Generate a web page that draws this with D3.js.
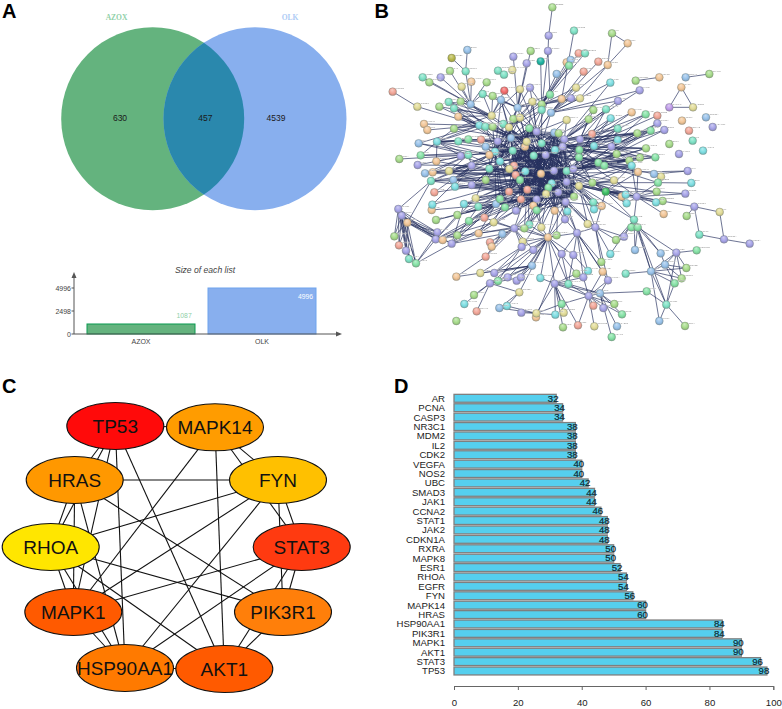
<!DOCTYPE html>
<html><head><meta charset="utf-8">
<script src="https://cdnjs.cloudflare.com/ajax/libs/d3/7.8.5/d3.min.js"></script>
<style>html,body{margin:0;padding:0;background:#fff}svg{display:block}text{font-family:"Liberation Sans",Arial,sans-serif}</style>
</head><body><svg id="c" width="782" height="709"></svg>
<script>
// ---------- Panel A ----------
const vennNames = ["AZOX","OLK"];
const vennCounts = [630,457,4539];
const listSizes = [1087,4996];
const listTicks = [0,2498,4996];
// ---------- Panel C ----------
const hubGenes = ["TP53","MAPK14","HRAS","FYN","RHOA","STAT3","MAPK1","PIK3R1","HSP90AA1","AKT1"];
const hubColors = ["#ff0a0a","#ff9c00","#ff9800","#ffc000","#ffe600","#ff3a10","#ff5a00","#ff7f0a","#ff7a00","#ff5a00"];
const hubX = [115.3,215,74.7,278,50.7,301.7,73.3,283,125,224.3];
const hubY = [426,427.3,480,480,547,547,612,612,668,669];
const hubLinks = [["TP53","MAPK14"],["TP53","HRAS"],["TP53","RHOA"],["TP53","MAPK1"],["TP53","HSP90AA1"],["TP53","AKT1"],
["MAPK14","FYN"],["MAPK14","STAT3"],["MAPK14","MAPK1"],["MAPK14","AKT1"],
["HRAS","FYN"],["HRAS","RHOA"],["HRAS","MAPK1"],["HRAS","HSP90AA1"],["HRAS","PIK3R1"],
["FYN","RHOA"],["FYN","STAT3"],["FYN","MAPK1"],["FYN","HSP90AA1"],["FYN","PIK3R1"],
["RHOA","MAPK1"],["RHOA","HSP90AA1"],["RHOA","AKT1"],["RHOA","PIK3R1"],
["STAT3","MAPK1"],["STAT3","HSP90AA1"],["STAT3","PIK3R1"],["STAT3","AKT1"],
["MAPK1","HSP90AA1"],["PIK3R1","AKT1"],["HSP90AA1","AKT1"]];
// ---------- Panel D ----------
const degreeGenes = ["AR","PCNA","CASP3","NR3C1","MDM2","IL2","CDK2","VEGFA","NOS2","UBC","SMAD3","JAK1","CCNA2","STAT1","JAK2","CDKN1A","RXRA","MAPK8","ESR1","RHOA","EGFR","FYN","MAPK14","HRAS","HSP90AA1","PIK3R1","MAPK1","AKT1","STAT3","TP53"];
const degreeValues = [32,34,34,38,38,38,38,40,40,42,44,44,46,48,48,48,50,50,52,54,54,56,60,60,84,84,90,90,96,98];
const degreeTicks = [0,20,40,60,80,100];
// ---------- Panel B : nodes [x, y, hue] ----------
const hues = {g:"#a8dc8c",t:"#7fe2c6",b:"#a7a4e8",s:"#98c2ea",o:"#f2c698",r:"#f2a698",y:"#e2dc98",c:"#7edee2",m:"#86e2a6",k:"#b8b84c",d:"#1fb4a2",e:"#f26a6a",p:"#c09cea",n:"#3cc064"};
const netNodes = [[547,22,"g"],[536,107,"b"],[612,92,"t"],[534,153,"b"],[726,100,"g"],[773,130,"o"],[292,150,"s"],[245,174,"k"],[430,170,"b"],[482,153,"g"],[470,190,"b"],[512,184,"d"],[626,160,"r"],[645,160,"t"],[590,187,"o"],[602,180,"s"],[685,185,"r"],[713,195,"o"],[641,215,"r"],[597,197,"m"],[560,222,"s"],[721,248,"c"],[797,242,"g"],[868,232,"o"],[947,232,"s"],[1018,222,"g"],[934,262,"o"],[898,322,"p"],[969,322,"y"],[809,271,"b"],[744,303,"b"],[158,232,"t"],[178,247,"g"],[212,232,"b"],[240,213,"g"],[287,214,"t"],[304,245,"o"],[350,247,"g"],[384,212,"t"],[402,224,"t"],[427,210,"y"],[275,260,"y"],[338,282,"t"],[368,288,"g"],[403,272,"e"],[450,268,"y"],[480,263,"b"],[540,284,"m"],[575,297,"o"],[603,295,"b"],[630,295,"y"],[618,263,"y"],[68,275,"r"],[142,320,"y"],[208,320,"g"],[236,306,"t"],[272,305,"g"],[252,325,"t"],[302,313,"s"],[393,300,"s"],[487,305,"y"],[515,313,"g"],[443,323,"s"],[515,330,"t"],[265,350,"o"],[365,347,"y"],[328,376,"c"],[346,380,"t"],[368,380,"g"],[400,372,"t"],[417,382,"y"],[430,357,"g"],[450,353,"y"],[543,338,"s"],[590,360,"y"],[656,358,"g"],[670,330,"g"],[708,328,"t"],[722,355,"c"],[785,337,"o"],[827,343,"m"],[862,347,"r"],[862,370,"b"],[883,390,"b"],[842,392,"m"],[802,400,"g"],[743,386,"t"],[666,402,"r"],[1008,352,"s"],[936,362,"o"],[1028,381,"b"],[957,392,"r"],[968,422,"t"],[898,432,"g"],[999,452,"c"],[927,462,"b"],[162,372,"o"],[172,390,"o"],[252,386,"g"],[146,430,"s"],[201,425,"c"],[265,424,"t"],[295,418,"m"],[333,419,"r"],[347,440,"s"],[383,424,"b"],[423,414,"s"],[478,385,"m"],[500,395,"b"],[553,398,"s"],[566,400,"g"],[515,430,"t"],[465,440,"o"],[470,425,"y"],[428,452,"t"],[375,455,"c"],[358,465,"o"],[295,465,"t"],[272,468,"b"],[88,477,"g"],[152,466,"m"],[143,495,"b"],[199,484,"o"],[305,497,"b"],[390,484,"c"],[432,497,"r"],[418,507,"y"],[491,467,"t"],[527,465,"b"],[555,450,"c"],[583,418,"b"],[578,440,"b"],[630,418,"b"],[628,450,"m"],[627,472,"m"],[672,438,"c"],[724,440,"b"],[743,420,"c"],[740,462,"g"],[685,488,"m"],[703,497,"m"],[778,482,"g"],[810,473,"g"],[856,472,"m"],[828,445,"g"],[785,497,"c"],[804,516,"o"],[873,530,"y"],[852,522,"s"],[953,513,"b"],[864,548,"m"],[964,549,"c"],[165,520,"s"],[188,517,"o"],[237,513,"y"],[358,506,"t"],[466,514,"c"],[513,521,"o"],[552,512,"b"],[590,513,"t"],[610,507,"b"],[437,525,"r"],[450,540,"m"],[183,543,"t"],[250,540,"s"],[255,560,"c"],[305,555,"b"],[347,540,"g"],[417,575,"r"],[472,569,"r"],[545,550,"c"],[535,563,"m"],[590,546,"b"],[627,558,"y"],[667,548,"g"],[732,541,"y"],[707,575,"n"],[565,577,"b"],[528,582,"y"],[193,577,"r"],[185,630,"o"],[187,614,"c"],[282,612,"c"],[317,595,"y"],[325,620,"t"],[378,612,"s"],[390,597,"m"],[405,622,"m"],[453,598,"r"],[500,598,"b"],[587,606,"b"],[612,590,"g"],[670,607,"t"],[672,628,"c"],[695,618,"o"],[755,590,"o"],[767,584,"c"],[800,590,"b"],[770,610,"c"],[860,575,"g"],[878,603,"g"],[858,607,"c"],[946,581,"b"],[973,620,"b"],[1049,636,"y"],[881,642,"o"],[950,648,"g"],[85,627,"b"],[95,647,"b"],[112,668,"o"],[198,660,"g"],[262,645,"g"],[297,663,"m"],[343,653,"r"],[371,667,"y"],[438,632,"b"],[490,617,"o"],[500,631,"m"],[554,632,"o"],[592,634,"c"],[585,658,"b"],[792,659,"t"],[653,672,"y"],[676,682,"b"],[478,674,"t"],[433,685,"b"],[463,685,"g"],[514,682,"y"],[326,700,"o"],[397,702,"s"],[621,699,"b"],[534,712,"o"],[560,706,"g"],[784,682,"m"],[803,682,"m"],[762,710,"b"],[738,720,"g"],[988,704,"t"],[1062,718,"b"],[1139,731,"b"],[73,709,"g"],[87,736,"r"],[108,752,"b"],[117,777,"t"],[138,790,"m"],[202,697,"b"],[197,718,"b"],[218,720,"o"],[262,706,"g"],[245,731,"b"],[360,727,"r"],[365,740,"o"],[347,770,"r"],[458,725,"y"],[455,741,"b"],[490,750,"b"],[575,762,"b"],[610,765,"b"],[721,762,"c"],[795,750,"s"],[872,760,"s"],[919,758,"b"],[980,751,"m"],[694,786,"g"],[486,797,"s"],[885,794,"s"],[949,804,"g"],[259,830,"o"],[331,819,"y"],[373,819,"b"],[413,832,"b"],[440,842,"b"],[453,832,"b"],[384,843,"m"],[360,850,"b"],[511,834,"c"],[554,851,"b"],[595,852,"t"],[619,821,"g"],[654,813,"c"],[698,815,"o"],[640,832,"b"],[714,841,"b"],[767,821,"t"],[843,814,"s"],[935,835,"g"],[914,850,"m"],[830,874,"m"],[448,877,"y"],[312,885,"g"],[283,912,"c"],[320,934,"r"],[259,963,"g"],[388,924,"s"],[411,918,"c"],[454,938,"b"],[498,952,"o"],[499,940,"y"],[556,944,"c"],[575,912,"m"],[581,938,"y"],[690,880,"s"],[656,888,"b"],[670,917,"r"],[700,924,"b"],[733,912,"g"],[756,943,"m"],[889,914,"t"],[868,963,"s"],[945,978,"g"],[579,982,"g"],[624,976,"r"],[673,979,"y"],[741,979,"s"],[725,1011,"m"]];
// Panel B : edges as [hub x, hub y, [neighbour x, y, ...]]
const netEdges = [
[547,22,[536,107]],[536,107,[534,153]],[534,153,[540,284,515,330]],[612,92,[575,297]],[726,100,[773,130,713,195]],[773,130,[713,195]],[713,195,[630,295,543,338]],[292,150,[287,214]],[245,174,[287,214]],[68,275,[142,320]],[142,320,[328,376]],[947,232,[1018,222]],[934,262,[898,322,969,322]],[898,322,[969,322]],[797,242,[868,232]],
[973,620,[1049,636,988,704,950,648]],[1049,636,[1062,718]],[1062,718,[1139,731,988,704]],[919,758,[980,751]],[953,513,[804,516,852,522]],[964,549,[864,548]],[946,581,[860,575]],
[430,452,[358,465,375,455,295,465,272,468,383,424,347,440,423,414,333,419,265,424,201,425,152,466,305,497,358,506,418,507,437,525,390,484,347,540,305,555,250,540,417,575,472,569,450,540]],
[470,425,[400,372,417,382,368,380,346,380,328,376,443,323,393,300,302,313,252,325,365,347,430,357,450,353,487,305,515,330,478,385,423,414,383,424,375,455,491,467,527,465,466,514,418,507,513,521]],
[515,430,[478,385,500,395,553,398,543,338,515,313,590,360,656,358,630,418,578,440,583,418,555,450,491,467,527,465,552,512,590,513,610,507,513,521,466,514,628,450,672,438]],
[491,467,[390,484,358,506,305,497,418,507,437,525,450,540,535,563,545,550,590,546,565,577,528,582,472,569,417,575,453,598,500,598,587,606,513,521,552,512]],
[527,465,[628,450,627,472,672,438,724,440,685,488,703,497,667,548,627,558,590,546,565,577,535,563,610,507,590,513,555,450]],
[552,512,[437,525,450,540,472,569,417,575,500,598,528,582,565,577,590,546,627,558,667,548,732,541,707,575,612,590,587,606,670,607,554,632,500,631,490,617]],
[590,546,[453,598,500,598,554,632,592,634,585,658,612,590,670,607,672,628,695,618,767,584,755,590,800,590,785,497,740,462,724,440]],
[472,569,[378,612,405,622,438,632,317,595,325,620,282,612,305,555,250,540,255,560,347,540,390,597,490,617,500,631,433,685,463,685,478,674,514,682]],
[417,575,[305,555,347,540,317,595,255,560,282,612,183,543,237,513,343,653,371,667,438,632,297,663,262,645]],
[437,525,[250,540,237,513,188,517,199,484,165,520,183,543,305,497,272,468,295,465,347,540]],
[565,577,[534,712,560,706,621,699,585,658,676,682,653,672,514,682,478,674,463,685,433,685,554,632,500,631,455,741]],
[513,521,[610,507,627,472,628,450,685,488,703,497,740,462,778,482,785,497,804,516,810,473]],
[610,507,[685,488,703,497,740,462,778,482,785,497,810,473,828,445,802,400,743,386,722,355,708,328,666,402,842,392,856,472]],
[630,418,[670,330,708,328,722,355,656,358,743,386,785,337,802,400,827,343,842,392,666,402,724,440,743,420]],
[724,440,[802,400,842,392,862,370,883,390,827,343,828,445,856,472,810,473,778,482,785,497,743,386]],
[627,472,[743,420,778,482,672,438,685,488,732,541,667,548,804,516,785,497,852,522,864,548]],
[707,575,[785,497,804,516,767,584,800,590,860,575,858,607,770,610,792,659,676,682]],
[800,590,[804,516,864,548,860,575,878,603,858,607,946,581,973,620,881,642,792,659,770,610,732,541,785,497]],
[365,347,[302,313,272,305,236,306,252,325,265,350,252,386,208,320,338,282,368,288,393,300,450,268,403,272]],
[443,323,[403,272,450,268,480,263,368,288,338,282,393,300,487,305,540,284,575,297,470,190,430,170,482,153]],
[515,313,[480,263,540,284,575,297,603,295,630,295,618,263,560,222,590,187,597,197,602,180,626,160,645,160,512,184]],
[543,338,[641,215,685,185,721,248,809,271,744,303,603,295,630,295,618,263]],
[302,313,[304,245,275,260,212,232,178,247,158,232,236,306,287,214,338,282,240,213,350,247]],
[328,376,[208,320,252,386,265,350,172,390,162,372,146,430,201,425,252,325]],
[201,425,[265,424,295,418,272,468,295,465,333,419,346,380,252,386,152,466,199,484]],
[295,465,[146,430,88,477,152,466,143,495,199,484,165,520,188,517,237,513,305,497]],
[305,497,[143,495,165,520,188,517,183,543,237,513,250,540,255,560,193,577,187,614]],
[534,712,[463,685,433,685,478,674,514,682,560,706,585,658,621,699,455,741,458,725,490,750,575,762,610,765,486,797,413,832,440,842,453,832,511,834,554,851,595,852,619,821,373,819,360,850,448,877]],
[621,699,[575,762,610,765,585,658,676,682,694,786,654,813,640,832,698,815,714,841]],
[676,682,[721,762,762,710,738,720,653,672,694,786,714,841]],
[792,659,[762,710,738,720,784,682,803,682,721,762,795,750,872,760,843,814]],
[803,682,[872,760,919,758,795,750,889,914,843,814]],
[554,851,[511,834,595,852,499,940,556,944,575,912,581,938,624,976,579,982,656,888,690,880,619,821,640,832]],
[656,888,[595,852,640,832,698,815,714,841,690,880,700,924,670,917,733,912,756,943,624,976,673,979,575,912]],
[690,880,[595,852,714,841,733,912,756,943,741,979,725,1011,830,874,700,924]],
[843,814,[767,821,885,794,919,758,949,804,935,835,914,850,889,914,868,963]],
[885,794,[919,758,949,804,935,835,914,850,872,760]],
[919,758,[949,804,935,835,889,914]],
[889,914,[830,874,945,978,914,850,868,963]],
[360,850,[453,832,413,832,312,885,283,912,320,934,384,843,486,797,448,877]],
[486,797,[373,819,331,819,259,830,413,832,453,832]],
[85,627,[95,647,112,668,73,709,87,736,108,752,117,777,138,790,183,543,202,697,197,718]],
[95,647,[112,668,73,709,87,736,108,752,117,777,138,790,202,697,197,718,218,720,245,731]],
[112,668,[73,709,87,736,108,752,117,777,138,790,202,697,197,718,245,731,218,720,183,543]],
[138,790,[197,718,245,731,202,697,108,752,117,777]],
[197,718,[317,595,343,653,262,645,297,663,371,667,326,700,262,706]],
[245,731,[325,620,282,612,378,612,397,702,326,700,371,667]],
[326,700,[405,622,438,632,478,674,433,685]],
[397,702,[360,727,365,740,347,770,433,685,478,674]],
[347,770,[259,830,433,685]],
[455,741,[331,819,384,843,373,819]],
[499,940,[454,938,388,924,411,918,575,912,556,944]],
[448,877,[411,918,388,924]],
[610,765,[654,813,595,852]],[575,762,[595,852,498,952]],
[423,414,[265,350,302,313,252,386,236,306,201,425,393,300,346,380,478,385,500,395,553,398,566,400]],
[383,424,[265,424,295,418,272,305,252,325,265,350,333,419,347,440,428,452,375,455,358,465]],
[358,465,[201,425,146,430,237,513,250,540,183,543,305,497,358,506,390,484]],
[500,395,[450,268,480,263,540,284,487,305,575,297,443,323,543,338,590,360,430,357,450,353,553,398]],
[583,418,[590,360,656,358,670,330,708,328,744,303,809,271,721,248,666,402,743,386,802,400,630,418]],
[578,440,[672,438,628,450,724,440,743,420,802,400,828,445,842,392,740,462]],
[628,450,[722,355,743,386,785,337,827,343,862,347,802,400,828,445,810,473,856,472,778,482]],
[685,488,[862,370,883,390,842,392,856,472,810,473,778,482,828,445,785,497,804,516]],
[667,548,[732,541,785,497,767,584,755,590,770,610,800,590,860,575,864,548,707,575]],
[627,558,[670,607,672,628,695,618,707,575,767,584,653,672,676,682,732,541,792,659]],
[587,606,[554,632,592,634,585,658,653,672,676,682,621,699,534,712,500,631,490,617,695,618]],
[500,598,[378,612,405,622,438,632,463,685,478,674,433,685,371,667,343,653,514,682,453,598]],
[453,598,[282,612,325,620,262,645,297,663,343,653,371,667,198,660,378,612,390,597,405,622]],
[535,563,[453,598,490,617,500,631,514,682,554,632,592,634,478,674,528,582,612,590,587,606]],
[528,582,[418,507,450,540,472,569,417,575,390,597,378,612,438,632,490,617,585,658]],
[450,540,[317,595,325,620,282,612,347,540,305,555,255,560,250,540,183,543,193,577,187,614]],
[418,507,[305,555,250,540,237,513,188,517,183,543,358,506,390,484,347,540,375,455]],
[378,612,[185,630,198,660,262,645,297,663,218,720,262,706,245,731,326,700]],
[433,685,[371,667,343,653,360,727,365,740,397,702,458,725,490,750,455,741]],
// dense core
[432,497,[470,425,515,430,491,467,527,465,555,450,578,440,552,512,590,513,610,507,545,550,590,546,565,577,535,563,500,598,453,598,587,606,383,424,423,414,478,385,500,395,553,398,630,418,628,450]],
[466,514,[428,452,465,440,515,430,555,450,583,418,610,507,627,472,590,546,565,577,528,582,500,598,587,606,612,590,627,558,667,548,417,575,453,598,438,632,490,617,500,631,554,632]],
[545,550,[430,452,465,440,470,425,478,385,500,395,423,414,553,398,566,400,583,418,578,440,630,418,628,450,672,438,418,507,437,525,450,540,417,575,453,598,500,598,438,632,490,617,500,631,554,632,592,634]],
[555,450,[428,452,465,440,375,455,390,484,432,497,418,507,437,525,450,540,472,569,417,575,535,563,528,582,565,577,590,546,612,590,587,606,453,598,500,598,490,617,438,632,405,622]],
[590,513,[430,452,432,497,437,525,450,540,472,569,417,575,453,598,500,598,438,632,490,617,500,631,528,582,535,563,478,385,500,395,553,398,583,418,578,440,491,467,470,425,465,440]],
[465,440,[390,484,375,455,358,465,418,507,432,497,437,525,450,540,472,569,417,575,453,598,528,582,500,598,535,563,545,550,565,577,587,606,612,590,590,546,627,558,667,548,627,472]],
[565,577,[428,452,465,440,470,425,491,467,390,484,418,507,432,497,437,525,450,540,466,514,578,440,553,398,500,395,478,385,423,414,383,424,375,455,358,506,347,540]],
[478,385,[428,452,390,484,375,455,358,465,418,507,432,497,437,525,450,540,472,569,417,575,491,467,527,465,513,521,552,512,590,513,610,507,627,472,628,450,555,450,578,440]],
[553,398,[428,452,491,467,466,514,513,521,552,512,437,525,450,540,472,569,535,563,528,582,590,546,627,472,627,558,667,548,610,507,685,488,703,497]],
[612,590,[437,525,450,540,466,514,513,521,491,467,527,465,555,450,578,440,515,430,470,425,465,440,432,497,418,507,590,513,610,507,417,575,472,569,453,598,500,598]],
[500,631,[432,497,437,525,466,514,513,521,491,467,527,465,515,430,470,425,428,452,418,507,390,484,472,569,417,575,545,550,565,577,587,606,590,546,552,512,590,513]],
[390,484,[423,414,383,424,347,440,333,419,400,372,417,382,430,357,450,353,443,323,305,497,347,540,305,555,358,506,417,575,472,569,450,540,437,525]],
[375,455,[400,372,417,382,368,380,346,380,450,353,430,357,443,323,393,300,487,305,515,330,347,540,317,595,378,612,390,597,405,622]],
[417,382,[430,357,450,353,393,300,443,323,487,305,515,330,515,313,540,284,491,467,527,465,513,521,466,514,432,497,418,507,437,525,450,540,472,569]],
[640,500,[627,472,610,507,590,513,552,512,513,521]],
[513,521,[428,452,465,440,470,425,478,385,500,395,423,414,383,424,437,525,450,540,472,569,417,575,453,598,500,598,528,582,565,577,587,606,612,590,627,558,590,546,535,563,545,550]],
[527,465,[428,452,390,484,375,455,432,497,418,507,437,525,450,540,472,569,417,575,453,598,500,598,490,617,500,631,438,632,405,622,378,612,390,597,500,395,478,385,423,414,553,398,566,400]]
];
// tiny, barely legible node captions
const netLabels = ["ERBB2","SRC","PTGS2","CCND1","IL6","TNF","BCL2","NFKB1","MMP9","CDK4","KDR","MET","PDGFRB","CASP8","HDAC1","PRKCA","GSK3B","MTOR","PTEN","RELA","JUN","FOS","CTNNB1","IGF1R","BRCA1","PPARG","RARA","CYP1A1","ABCB1","TYMS","ALB","GRB2","PIK3CA","SOD1","CAT","GSTP1","AURKA","PLK1","CDC25A","TOP2A","ADAM17","EPHX2","F2","DPP4","ALOX5","PARP1","HSPA8","LCK","BTK","SYK"];

const svg = d3.select("#c");
const bold = (t,x,y)=>svg.append("text").attr("x",x).attr("y",y).attr("font-size",20).attr("font-weight",700).attr("fill","#000").text(t);
[["A",2,18],["B",374.5,18],["C",2,392.5],["D",394,392.5]].forEach(d=>bold(...d));

// ===== Panel A venn =====
const A = svg.append("g");
const defs = svg.append("defs");
const vennCx = [152.7,255], vennCy = 118.7, vennR = 91.5;
defs.append("clipPath").attr("id","lens").append("circle").attr("cx",vennCx[0]).attr("cy",vennCy).attr("r",vennR);
A.append("circle").attr("cx",vennCx[0]).attr("cy",vennCy).attr("r",vennR).attr("fill","#64b37e");
A.append("circle").attr("cx",vennCx[1]).attr("cy",vennCy).attr("r",vennR).attr("fill","#88afee");
A.append("circle").attr("cx",vennCx[1]).attr("cy",vennCy).attr("r",vennR).attr("fill","#2a88ad").attr("clip-path","url(#lens)");
A.selectAll("text.t").data(vennNames).join("text").attr("x",(d,i)=>[116.5,290][i]).attr("y",19.5)
 .attr("text-anchor","middle").attr("font-size",7.5).style("font-family","'Liberation Serif',serif").attr("font-weight",700)
 .attr("fill",(d,i)=>["#8fd0a8","#aecbf5"][i]).text(d=>d);
A.selectAll("text.n").data(vennCounts).join("text").attr("x",(d,i)=>[120,205.3,276][i]).attr("y",121)
 .attr("text-anchor","middle").attr("font-size",8.5).attr("fill","#1a1a1a").text(d=>d);

// list-size bars
const ly = d3.scaleLinear().domain([0,4996]).range([334,288]);
A.append("text").attr("x",205).attr("y",273).attr("text-anchor","middle").attr("font-size",8.6).attr("font-style","italic").attr("fill","#444").text("Size of each list");
A.selectAll("rect").data(listSizes).join("rect").attr("x",(d,i)=>[87,208][i]).attr("width",108).attr("y",d=>ly(d)).attr("height",d=>334-ly(d))
 .attr("fill",(d,i)=>["#64b37e","#88afee"][i]).attr("stroke",(d,i)=>["#0a9a50","#6ea4ee"][i]).attr("stroke-width",1);
A.selectAll("text.v").data(listSizes).join("text").attr("x",(d,i)=>[191.7,313][i]).attr("y",(d,i)=>[317.5,298.5][i]).attr("text-anchor","end").attr("font-size",6.8)
 .attr("fill",(d,i)=>["#8fd0a8","#fff"][i]).text(d=>d);
const axC="#555";
A.append("path").attr("d","M74,334V276").attr("stroke",axC).attr("fill","none");
A.append("path").attr("d","M74,334H337").attr("stroke",axC).attr("fill","none");
A.append("path").attr("d","M74,272l-2.5,6h5z").attr("fill",axC);
A.append("path").attr("d","M342,334l-6,-2.5v5z").attr("fill",axC);
listTicks.forEach(t=>{
  A.append("path").attr("d",`M71.5,${ly(t)}H74`).attr("stroke",axC);
  A.append("text").attr("x",71).attr("y",ly(t)+2.5).attr("text-anchor","end").attr("font-size",7).attr("fill","#444").text(t);
});
vennNames.forEach((n,i)=>{
  A.append("text").attr("x",[141,262][i]).attr("y",344).attr("text-anchor","middle").attr("font-size",7).attr("fill","#444").text(n);
});

// ===== Panel B network =====
const nx = d3.scaleLinear().domain([0,1236]).range([370,782]);
const ny = d3.scaleLinear().domain([0,1080]).range([0,360]);
const soft = defs.append("filter").attr("id","soft").attr("x","-5%").attr("y","-5%").attr("width","110%").attr("height","110%");
soft.append("feGaussianBlur").attr("stdDeviation",0.35);
Object.entries(hues).forEach(([k,c])=>{
  const g = defs.append("radialGradient").attr("id","h"+k).attr("cx","50%").attr("cy","45%").attr("r","55%").attr("fx","42%").attr("fy","25%");
  g.append("stop").attr("offset","0%").attr("stop-color",d3.interpolateRgb(c,"#fff")(0.45));
  g.append("stop").attr("offset","60%").attr("stop-color",c);
  g.append("stop").attr("offset","100%").attr("stop-color",d3.color(c).darker(0.5));
});
const B = svg.append("g").attr("filter","url(#soft)");
const edges = [];
netEdges.forEach(([hx,hy,list])=>{ for(let i=0;i<list.length;i+=2) edges.push([hx,hy,list[i],list[i+1]]); });
B.append("g").selectAll("line").data(edges).join("line")
 .attr("x1",d=>nx(d[0])).attr("y1",d=>ny(d[1])).attr("x2",d=>nx(d[2])).attr("y2",d=>ny(d[3]))
 .attr("stroke","#27315f").attr("stroke-opacity",0.85).attr("stroke-width",0.8);
B.append("g").selectAll("circle").data(netNodes).join("circle")
 .attr("cx",d=>nx(d[0])).attr("cy",d=>ny(d[1])).attr("r",3.9)
 .attr("fill",d=>`url(#h${d[2]})`).attr("stroke","#77807a").attr("stroke-width",0.4);
B.append("g").selectAll("text").data(netNodes).join("text")
 .attr("x",d=>nx(d[0])+3.5).attr("y",d=>ny(d[1])-2.5).attr("font-size",2.3).attr("fill","#8a8a8a")
 .attr("stroke","#fff").attr("stroke-width",0.5).attr("stroke-opacity",0.5).attr("paint-order","stroke")
 .text((d,i)=>netLabels[i%netLabels.length]);

// ===== Panel C hub network =====
const Cg = svg.append("g");
const hubIdx = new Map(hubGenes.map((g,i)=>[g,i]));
Cg.selectAll("line").data(hubLinks).join("line")
 .attr("x1",d=>hubX[hubIdx.get(d[0])]).attr("y1",d=>hubY[hubIdx.get(d[0])])
 .attr("x2",d=>hubX[hubIdx.get(d[1])]).attr("y2",d=>hubY[hubIdx.get(d[1])])
 .attr("stroke","#111").attr("stroke-width",1.1);
Cg.selectAll("ellipse").data(hubGenes).join("ellipse")
 .attr("cx",(d,i)=>hubX[i]).attr("cy",(d,i)=>hubY[i]).attr("rx",48.5).attr("ry",23.5)
 .attr("fill",(d,i)=>hubColors[i]).attr("stroke","#111").attr("stroke-width",1.1);
Cg.selectAll("text").data(hubGenes).join("text")
 .attr("x",(d,i)=>hubX[i]).attr("y",(d,i)=>hubY[i]+6.5).attr("text-anchor","middle").attr("font-size",19).attr("fill","#111").text(d=>d);

// ===== Panel D bars =====
const Dg = svg.append("g");
const x = d3.scaleLinear().domain([0,100]).range([454,773.3]);
const y = d3.scaleBand().domain(degreeGenes).range([393.6,675.7]).paddingInner(0.16).paddingOuter(0.08);
Dg.selectAll("rect").data(degreeValues).join("rect")
 .attr("x",x(0)).attr("y",(d,i)=>y(degreeGenes[i])).attr("width",d=>x(d)-x(0)).attr("height",y.bandwidth())
 .attr("fill","#55cfee").attr("stroke","#7f7f7f").attr("stroke-width",1.3);
Dg.selectAll("text.v").data(degreeValues).join("text").attr("x",d=>x(d)-3).attr("y",(d,i)=>y(degreeGenes[i])+y.bandwidth()/2+3.3)
 .attr("text-anchor","middle").attr("font-size",9.6).attr("fill","#0d2a33").attr("stroke","#0d2a33").attr("stroke-width",0.2).text(d=>d);
Dg.selectAll("text.c").data(degreeGenes).join("text").attr("x",445).attr("y",d=>y(d)+y.bandwidth()/2+3.4)
 .attr("text-anchor","end").attr("font-size",9.6).attr("fill","#222").text(d=>d);
const ax = Dg.append("g").attr("transform","translate(0,686)").call(d3.axisBottom(x).tickValues(degreeTicks).tickSize(4).tickPadding(9));
ax.selectAll("path,line").attr("stroke","#666").attr("stroke-width",1);
ax.selectAll("text").attr("font-size",9.6).attr("fill","#222").style("font-family","'Liberation Sans',Arial,sans-serif");
</script></body></html>
